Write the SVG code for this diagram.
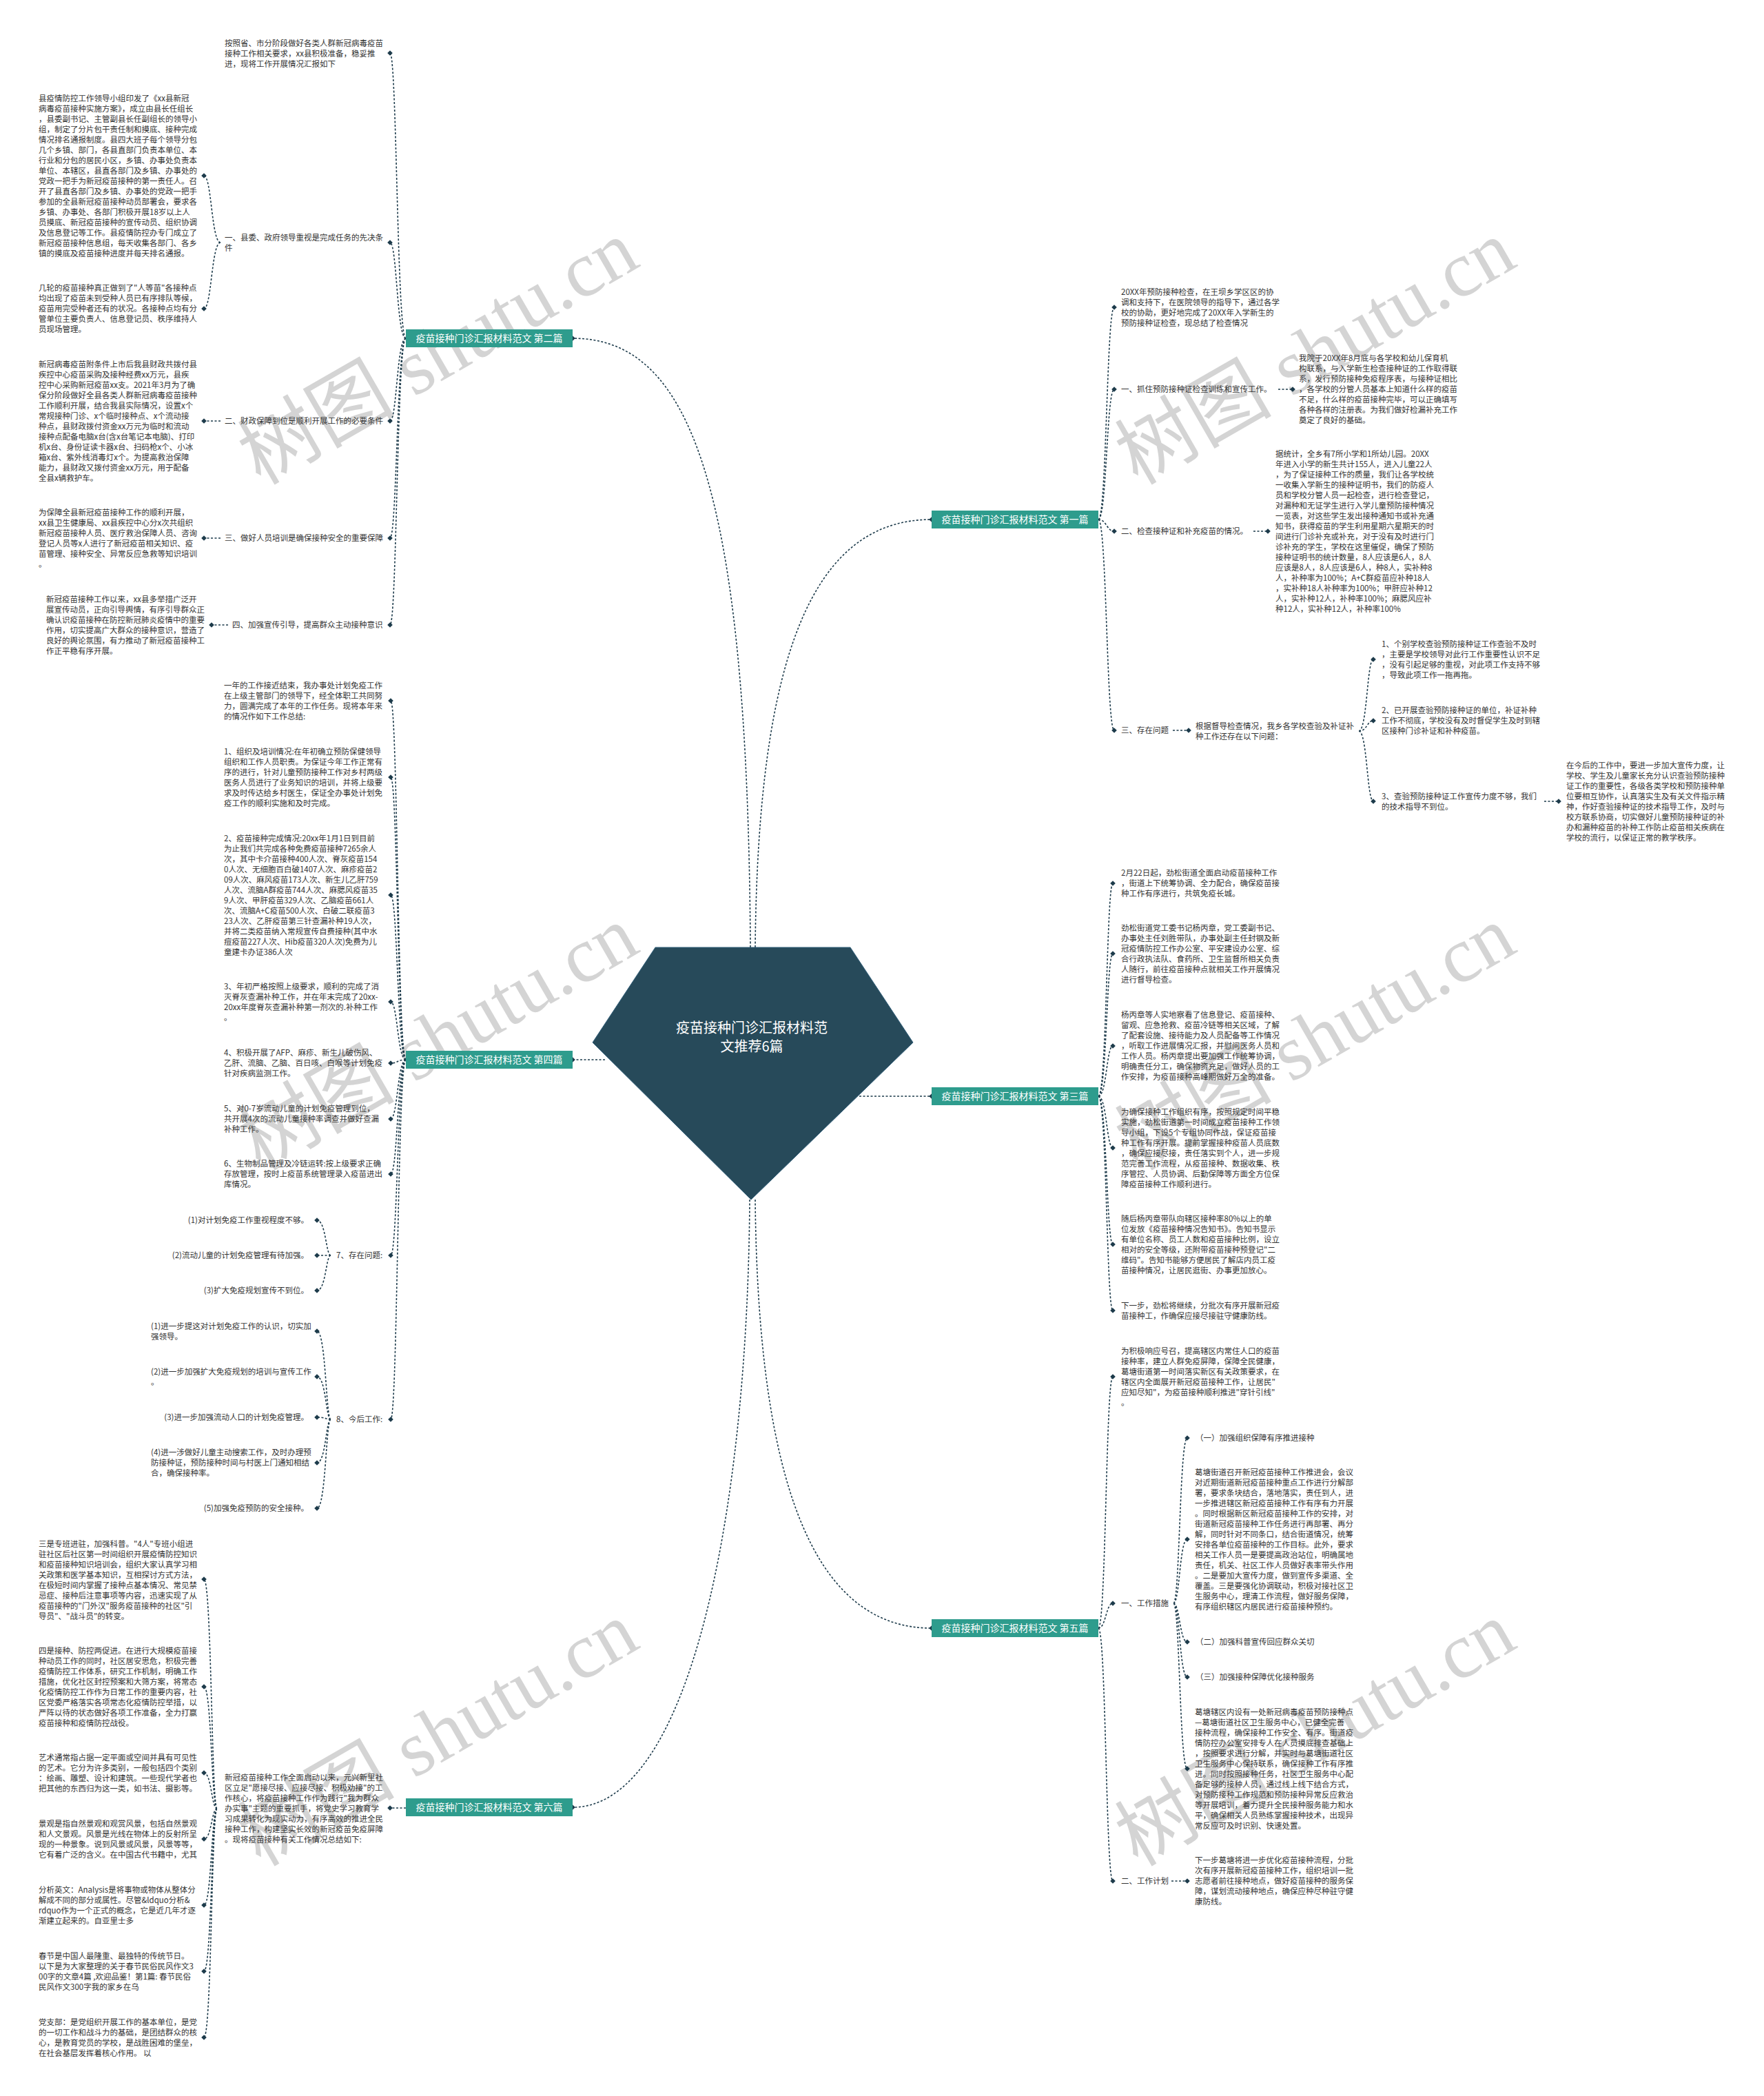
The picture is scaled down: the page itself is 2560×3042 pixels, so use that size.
<svg xmlns="http://www.w3.org/2000/svg" width="2560" height="3042" viewBox="0 0 2560 3042">
<style>
.t{font-family:"Noto Sans CJK SC","Noto Sans",sans-serif;font-size:11.5px;fill:#333}
.c{fill:none;stroke:#1d3b4b;stroke-width:1.6;stroke-dasharray:3 2.5;marker-end:url(#dm)}
.lb{fill:#2e9c8d}
.lt{font-family:"Noto Sans CJK SC","Noto Sans",sans-serif;font-size:14px;fill:#fff;text-anchor:middle}
.wm{font-family:"Liberation Serif","Noto Sans CJK SC",serif;font-size:114px;fill:#b8b8b8;opacity:0.6;text-anchor:middle}
</style>
<defs>
<marker id="dm" markerWidth="10" markerHeight="10" refX="5" refY="5" markerUnits="userSpaceOnUse"><path d="M5 1.2L8.8 5L5 8.8L1.2 5Z" fill="#1d3b4b"/></marker>
</defs>
<rect width="2560" height="3042" fill="#fff"/>
<g id="watermarks">
<text class="wm" transform="translate(655,545) rotate(-30)">树图 shutu.cn</text>
<text class="wm" transform="translate(1928,545) rotate(-30)">树图 shutu.cn</text>
<text class="wm" transform="translate(655,1540) rotate(-30)">树图 shutu.cn</text>
<text class="wm" transform="translate(1928,1540) rotate(-30)">树图 shutu.cn</text>
<text class="wm" transform="translate(655,2550) rotate(-30)">树图 shutu.cn</text>
<text class="wm" transform="translate(1928,2550) rotate(-30)">树图 shutu.cn</text>
</g>
<g id="connectors">
<path class="c" d="M1089,1375 C1085,700 1000,491 831,491"/>
<path class="c" d="M1096,1375 C1100,950 1180,754 1352,754"/>
<path class="c" d="M878,1538 L831,1538"/>
<path class="c" d="M1247,1591 L1352,1591"/>
<path class="c" d="M1096,1741 C1100,2150 1180,2363 1352,2363"/>
<path class="c" d="M1088,1741 C1085,2200 1000,2623 831,2623"/>
<path class="c" d="M589,491 C576,491 576,77 566,77"/>
<path class="c" d="M589,491 C576,491 576,352 566,352"/>
<path class="c" d="M589,491 C576,491 576,611 566,611"/>
<path class="c" d="M589,491 C576,491 576,781 566,781"/>
<path class="c" d="M589,491 C576,491 576,907 566,907"/>
<path class="c" d="M320,352 C307,352 307,255 296,255"/>
<path class="c" d="M320,352 C307,352 307,448 296,448"/>
<path class="c" d="M320,611 H296"/>
<path class="c" d="M320,781 H296"/>
<path class="c" d="M331,907 H307"/>
<path class="c" d="M589,1538 C577,1538 577,1017 567,1017"/>
<path class="c" d="M589,1538 C577,1538 577,1128 567,1128"/>
<path class="c" d="M589,1538 C577,1538 577,1299 567,1299"/>
<path class="c" d="M589,1538 C577,1538 577,1454 567,1454"/>
<path class="c" d="M589,1538 C577,1538 577,1543 567,1543"/>
<path class="c" d="M589,1538 C577,1538 577,1624 567,1624"/>
<path class="c" d="M589,1538 C577,1538 577,1704 567,1704"/>
<path class="c" d="M589,1538 C577,1538 577,1822 567,1822"/>
<path class="c" d="M589,1538 C577,1538 577,2060 567,2060"/>
<path class="c" d="M480,1822 C473,1822 473,1771 460,1771"/>
<path class="c" d="M480,1822 H460"/>
<path class="c" d="M480,1822 C473,1822 473,1873 460,1873"/>
<path class="c" d="M480,2060 C473,2060 473,1932 460,1932"/>
<path class="c" d="M480,2060 C473,2060 473,1998 460,1998"/>
<path class="c" d="M480,2060 C473,2060 473,2057 460,2057"/>
<path class="c" d="M480,2060 C473,2060 473,2123 460,2123"/>
<path class="c" d="M480,2060 C473,2060 473,2189 460,2189"/>
<path class="c" d="M589,2624 H566"/>
<path class="c" d="M315,2625 C307,2625 307,2292 296,2292"/>
<path class="c" d="M315,2625 C307,2625 307,2448 296,2448"/>
<path class="c" d="M315,2625 C307,2625 307,2573 296,2573"/>
<path class="c" d="M315,2625 C307,2625 307,2669 296,2669"/>
<path class="c" d="M315,2625 C307,2625 307,2765 296,2765"/>
<path class="c" d="M315,2625 C307,2625 307,2861 296,2861"/>
<path class="c" d="M315,2625 C307,2625 307,2957 296,2957"/>
<path class="c" d="M1594,754 C1606,754 1606,446 1617,446"/>
<path class="c" d="M1594,754 C1606,754 1606,565 1617,565"/>
<path class="c" d="M1594,754 C1606,754 1606,771 1617,771"/>
<path class="c" d="M1594,754 C1606,754 1606,1060 1617,1060"/>
<path class="c" d="M1855,565 H1876"/>
<path class="c" d="M1819,771 H1840"/>
<path class="c" d="M1702,1060 H1725"/>
<path class="c" d="M1972,1061 C1984,1061 1984,957 1993,957"/>
<path class="c" d="M1972,1061 C1984,1061 1984,1046 1993,1046"/>
<path class="c" d="M1972,1061 C1984,1061 1984,1163 1993,1163"/>
<path class="c" d="M2241,1163 H2262"/>
<path class="c" d="M1594,1591 C1606,1591 1606,1282 1615,1282"/>
<path class="c" d="M1594,1591 C1606,1591 1606,1384 1615,1384"/>
<path class="c" d="M1594,1591 C1606,1591 1606,1518 1615,1518"/>
<path class="c" d="M1594,1591 C1606,1591 1606,1666 1615,1666"/>
<path class="c" d="M1594,1591 C1606,1591 1606,1806 1615,1806"/>
<path class="c" d="M1594,1591 C1606,1591 1606,1902 1615,1902"/>
<path class="c" d="M1594,2363 C1605,2363 1605,1998 1615,1998"/>
<path class="c" d="M1594,2363 C1605,2363 1605,2327 1615,2327"/>
<path class="c" d="M1594,2363 C1605,2363 1605,2730 1615,2730"/>
<path class="c" d="M1703,2327 C1712,2327 1712,2087 1723,2087"/>
<path class="c" d="M1703,2327 C1712,2327 1712,2234 1723,2234"/>
<path class="c" d="M1703,2327 C1712,2327 1712,2383 1723,2383"/>
<path class="c" d="M1703,2327 C1712,2327 1712,2434 1723,2434"/>
<path class="c" d="M1703,2327 C1712,2327 1712,2567 1723,2567"/>
<path class="c" d="M1700,2730 H1723"/>
</g>
<g id="center">
<polygon points="951,1375 1234,1375 1325,1513 1090,1741 860,1513" fill="#274a5a" stroke="#2f5d78" stroke-width="1"/>
<text font-family="Noto Sans CJK SC, sans-serif" font-size="20" fill="#fff" text-anchor="middle"><tspan x="1091" y="1499">疫苗接种门诊汇报材料范</tspan><tspan x="1091" y="1526">文推荐6篇</tspan></text>
</g>
<g id="label-2"><rect class="lb" x="589" y="478" width="242" height="26"/><text class="lt" x="710" y="496">疫苗接种门诊汇报材料范文 第二篇</text></g>
<g id="label-1"><rect class="lb" x="1352" y="741" width="242" height="26"/><text class="lt" x="1473" y="759">疫苗接种门诊汇报材料范文 第一篇</text></g>
<g id="label-4"><rect class="lb" x="589" y="1525" width="242" height="26"/><text class="lt" x="710" y="1543">疫苗接种门诊汇报材料范文 第四篇</text></g>
<g id="label-3"><rect class="lb" x="1352" y="1578" width="242" height="26"/><text class="lt" x="1473" y="1596">疫苗接种门诊汇报材料范文 第三篇</text></g>
<g id="label-5"><rect class="lb" x="1352" y="2350" width="242" height="26"/><text class="lt" x="1473" y="2368">疫苗接种门诊汇报材料范文 第五篇</text></g>
<g id="label-6"><rect class="lb" x="589" y="2610" width="242" height="26"/><text class="lt" x="710" y="2628">疫苗接种门诊汇报材料范文 第六篇</text></g>

<g id="b2-0"><text class="t" y="67"><tspan x="326">按照省、市分阶段做好各类人群新冠病毒疫苗</tspan><tspan x="326" dy="15">接种工作相关要求，xx县积极准备，稳妥推</tspan><tspan x="326" dy="15">进，现将工作开展情况汇报如下</tspan></text></g>
<g id="b2-1"><text class="t" y="349"><tspan x="326">一、县委、政府领导重视是完成任务的先决条</tspan><tspan x="326" dy="15">件</tspan></text></g>
<g id="b2-1-1"><text class="t" y="147"><tspan x="56">县疫情防控工作领导小组印发了《xx县新冠</tspan><tspan x="56" dy="15">病毒疫苗接种实施方案》，成立由县长任组长</tspan><tspan x="56" dy="15">，县委副书记、主管副县长任副组长的领导小</tspan><tspan x="56" dy="15">组，制定了分片包干责任制和摸底、接种完成</tspan><tspan x="56" dy="15">情况排名通报制度。县四大班子每个领导分包</tspan><tspan x="56" dy="15">几个乡镇、部门，各县直部门负责本单位、本</tspan><tspan x="56" dy="15">行业和分包的居民小区，乡镇、办事处负责本</tspan><tspan x="56" dy="15">单位、本辖区，县直各部门及乡镇、办事处的</tspan><tspan x="56" dy="15">党政一把手为新冠疫苗接种的第一责任人。召</tspan><tspan x="56" dy="15">开了县直各部门及乡镇、办事处的党政一把手</tspan><tspan x="56" dy="15">参加的全县新冠疫苗接种动员部署会，要求各</tspan><tspan x="56" dy="15">乡镇、办事处、各部门积极开展18岁以上人</tspan><tspan x="56" dy="15">员摸底、新冠疫苗接种的宣传动员、组织协调</tspan><tspan x="56" dy="15">及信息登记等工作。县疫情防控办专门成立了</tspan><tspan x="56" dy="15">新冠疫苗接种信息组，每天收集各部门、各乡</tspan><tspan x="56" dy="15">镇的摸底及疫苗接种进度并每天排名通报。</tspan></text></g>
<g id="b2-1-2"><text class="t" y="422"><tspan x="56">几轮的疫苗接种真正做到了"人等苗"各接种点</tspan><tspan x="56" dy="15">均出现了疫苗未到受种人员已有序排队等候，</tspan><tspan x="56" dy="15">疫苗用完受种者还有的状况。各接种点均有分</tspan><tspan x="56" dy="15">管单位主要负责人、信息登记员、秩序维持人</tspan><tspan x="56" dy="15">员现场管理。</tspan></text></g>
<g id="b2-2"><text class="t" x="326" y="615">二、财政保障到位是顺利开展工作的必要条件</text></g>
<g id="b2-2-1"><text class="t" y="532.5"><tspan x="56">新冠病毒疫苗附条件上市后我县财政共拨付县</tspan><tspan x="56" dy="15">疾控中心疫苗采购及接种经费xx万元，县疾</tspan><tspan x="56" dy="15">控中心采购新冠疫苗xx支。2021年3月为了确</tspan><tspan x="56" dy="15">保分阶段做好全县各类人群新冠病毒疫苗接种</tspan><tspan x="56" dy="15">工作顺利开展，结合我县实际情况，设置x个</tspan><tspan x="56" dy="15">常规接种门诊、x个临时接种点、x个流动接</tspan><tspan x="56" dy="15">种点，县财政拨付资金xx万元为临时和流动</tspan><tspan x="56" dy="15">接种点配备电脑x台(含x台笔记本电脑)、打印</tspan><tspan x="56" dy="15">机x台、身份证读卡器x台、扫码枪x个、小冰</tspan><tspan x="56" dy="15">箱x台、紫外线消毒灯x个。为提高救治保障</tspan><tspan x="56" dy="15">能力，县财政又拨付资金xx万元，用于配备</tspan><tspan x="56" dy="15">全县x辆救护车。</tspan></text></g>
<g id="b2-3"><text class="t" x="326" y="785">三、做好人员培训是确保接种安全的重要保障</text></g>
<g id="b2-3-1"><text class="t" y="747.5"><tspan x="56">为保障全县新冠疫苗接种工作的顺利开展，</tspan><tspan x="56" dy="15">xx县卫生健康局、xx县疾控中心分x次共组织</tspan><tspan x="56" dy="15">新冠疫苗接种人员、医疗救治保障人员、咨询</tspan><tspan x="56" dy="15">登记人员等x人进行了新冠疫苗相关知识、疫</tspan><tspan x="56" dy="15">苗管理、接种安全、异常反应急救等知识培训</tspan><tspan x="56" dy="15">。</tspan></text></g>
<g id="b2-4"><text class="t" x="337" y="911">四、加强宣传引导，提高群众主动接种意识</text></g>
<g id="b2-4-1"><text class="t" y="873.5"><tspan x="67">新冠疫苗接种工作以来，xx县多举措广泛开</tspan><tspan x="67" dy="15">展宣传动员，正向引导舆情，有序引导群众正</tspan><tspan x="67" dy="15">确认识疫苗接种在防控新冠肺炎疫情中的重要</tspan><tspan x="67" dy="15">作用，切实提高广大群众的接种意识，营造了</tspan><tspan x="67" dy="15">良好的舆论氛围，有力推动了新冠疫苗接种工</tspan><tspan x="67" dy="15">作正平稳有序开展。</tspan></text></g>

<g id="b4-0"><text class="t" y="998.5"><tspan x="325">一年的工作接近结束，我办事处计划免疫工作</tspan><tspan x="325" dy="15">在上级主管部门的领导下，经全体职工共同努</tspan><tspan x="325" dy="15">力，圆满完成了本年的工作任务。现将本年来</tspan><tspan x="325" dy="15">的情况作如下工作总结:</tspan></text></g>
<g id="b4-1"><text class="t" y="1094.5"><tspan x="325">1、组织及培训情况:在年初确立预防保健领导</tspan><tspan x="325" dy="15">组织和工作人员职责。为保证今年工作正常有</tspan><tspan x="325" dy="15">序的进行，针对儿童预防接种工作对乡村两级</tspan><tspan x="325" dy="15">医务人员进行了业务知识的培训，并将上级要</tspan><tspan x="325" dy="15">求及时传达给乡村医生，保证全办事处计划免</tspan><tspan x="325" dy="15">疫工作的顺利实施和及时完成。</tspan></text></g>
<g id="b4-2"><text class="t" y="1220.5"><tspan x="325">2、疫苗接种完成情况:20xx年1月1日到目前</tspan><tspan x="325" dy="15">为止我们共完成各种免费疫苗接种7265余人</tspan><tspan x="325" dy="15">次，其中卡介苗接种400人次、脊灰疫苗154</tspan><tspan x="325" dy="15">0人次、无细胞百白破1407人次、麻疹疫苗2</tspan><tspan x="325" dy="15">09人次、麻风疫苗173人次、新生儿乙肝759</tspan><tspan x="325" dy="15">人次、流脑A群疫苗744人次、麻腮风疫苗35</tspan><tspan x="325" dy="15">9人次、甲肝疫苗329人次、乙脑疫苗661人</tspan><tspan x="325" dy="15">次、流脑A+C疫苗500人次、白破二联疫苗3</tspan><tspan x="325" dy="15">23人次、乙肝疫苗第三针查漏补种19人次，</tspan><tspan x="325" dy="15">并将二类疫苗纳入常规宣传自费接种(其中水</tspan><tspan x="325" dy="15">痘疫苗227人次、Hib疫苗320人次)免费为儿</tspan><tspan x="325" dy="15">童建卡办证386人次</tspan></text></g>
<g id="b4-3"><text class="t" y="1435.5"><tspan x="325">3、年初严格按照上级要求，顺利的完成了消</tspan><tspan x="325" dy="15">灭脊灰查漏补种工作，并在年末完成了20xx-</tspan><tspan x="325" dy="15">20xx年度脊灰查漏补种第一剂次的.补种工作</tspan><tspan x="325" dy="15">。</tspan></text></g>
<g id="b4-4"><text class="t" y="1532"><tspan x="325">4、积极开展了AFP、麻疹、新生儿破伤风、</tspan><tspan x="325" dy="15">乙肝、流脑、乙脑、百日咳、白喉等计划免疫</tspan><tspan x="325" dy="15">针对疾病监测工作。</tspan></text></g>
<g id="b4-5"><text class="t" y="1613"><tspan x="325">5、对0-7岁流动儿童的计划免疫管理到位，</tspan><tspan x="325" dy="15">共开展4次的流动儿童接种率调查并做好查漏</tspan><tspan x="325" dy="15">补种工作。</tspan></text></g>
<g id="b4-6"><text class="t" y="1693"><tspan x="325">6、生物制品管理及冷链运转:按上级要求正确</tspan><tspan x="325" dy="15">存放管理，按时上疫苗系统管理录入疫苗进出</tspan><tspan x="325" dy="15">库情况。</tspan></text></g>
<g id="b4-7"><text class="t" x="488" y="1826">7、存在问题:</text></g>
<g id="b4-7-1"><text class="t" x="448" y="1775" text-anchor="end">(1)对计划免疫工作重视程度不够。</text></g>
<g id="b4-7-2"><text class="t" x="448" y="1826" text-anchor="end">(2)流动儿童的计划免疫管理有待加强。</text></g>
<g id="b4-7-3"><text class="t" x="448" y="1877" text-anchor="end">(3)扩大免疫规划宣传不到位。</text></g>
<g id="b4-8"><text class="t" x="488" y="2064">8、今后工作:</text></g>
<g id="b4-8-1"><text class="t" y="1928.5"><tspan x="219">(1)进一步提这对计划免疫工作的认识，切实加</tspan><tspan x="219" dy="15">强领导。</tspan></text></g>
<g id="b4-8-2"><text class="t" y="1994.5"><tspan x="219">(2)进一步加强扩大免疫规划的培训与宣传工作</tspan><tspan x="219" dy="15">。</tspan></text></g>
<g id="b4-8-3"><text class="t" x="448" y="2061" text-anchor="end">(3)进一步加强流动人口的计划免疫管理。</text></g>
<g id="b4-8-4"><text class="t" y="2112"><tspan x="219">(4)进一涉做好儿童主动搜索工作，及时办理预</tspan><tspan x="219" dy="15">防接种证，预防接种时间与村医上门通知相结</tspan><tspan x="219" dy="15">合，确保接种率。</tspan></text></g>
<g id="b4-8-5"><text class="t" x="448" y="2193" text-anchor="end">(5)加强免疫预防的安全接种。</text></g>

<g id="b6-0"><text class="t" y="2584"><tspan x="326">新冠疫苗接种工作全面启动以来，元兴新里社</tspan><tspan x="326" dy="15">区立足"愿接尽接、应接尽接、积极劝接"的工</tspan><tspan x="326" dy="15">作核心，将疫苗接种工作作为践行"我为群众</tspan><tspan x="326" dy="15">办实事"主题的重要抓手，将党史学习教育学</tspan><tspan x="326" dy="15">习成果转化为现实动力，有序高效的推进全民</tspan><tspan x="326" dy="15">接种工作，构建坚实长效的新冠疫苗免疫屏障</tspan><tspan x="326" dy="15">。现将疫苗接种有关工作情况总结如下:</tspan></text></g>
<g id="b6-1"><text class="t" y="2244.5"><tspan x="56">三是专班进驻，加强科普。"4人"专班小组进</tspan><tspan x="56" dy="15">驻社区后社区第一时间组织开展疫情防控知识</tspan><tspan x="56" dy="15">和疫苗接种知识培训会，组织大家认真学习相</tspan><tspan x="56" dy="15">关政策和医学基本知识，互相探讨方式方法，</tspan><tspan x="56" dy="15">在极短时间内掌握了接种点基本情况、常见禁</tspan><tspan x="56" dy="15">忌症、接种后注意事项等内容，迅速实现了从</tspan><tspan x="56" dy="15">疫苗接种的"门外汉"服务疫苗接种的社区"引</tspan><tspan x="56" dy="15">导员"、"战斗员"的转变。</tspan></text></g>
<g id="b6-2"><text class="t" y="2399.5"><tspan x="56">四是接种、防控两促进。在进行大规模疫苗接</tspan><tspan x="56" dy="15">种动员工作的同时，社区居安思危，积极完善</tspan><tspan x="56" dy="15">疫情防控工作体系，研究工作机制，明确工作</tspan><tspan x="56" dy="15">措施，优化社区封控预案和大筛方案，将常态</tspan><tspan x="56" dy="15">化疫情防控工作作为日常工作的重要内容，社</tspan><tspan x="56" dy="15">区党委严格落实各项常态化疫情防控举措，以</tspan><tspan x="56" dy="15">严阵以待的状态做好各项工作准备，全力打赢</tspan><tspan x="56" dy="15">疫苗接种和疫情防控战役。</tspan></text></g>
<g id="b6-3"><text class="t" y="2554.5"><tspan x="56">艺术通常指占据一定平面或空间并具有可见性</tspan><tspan x="56" dy="15">的艺术。它分为许多类别，一般包括四个类别</tspan><tspan x="56" dy="15">：绘画、雕塑、设计和建筑。一些现代学者也</tspan><tspan x="56" dy="15">把其他的东西归为这一类，如书法、摄影等。</tspan></text></g>
<g id="b6-4"><text class="t" y="2650.5"><tspan x="56">景观是指自然景观和观赏风景，包括自然景观</tspan><tspan x="56" dy="15">和人文景观。风景是光线在物体上的反射所呈</tspan><tspan x="56" dy="15">现的一种景象。说到风景或风景，风景等等，</tspan><tspan x="56" dy="15">它有着广泛的含义。在中国古代书籍中，尤其</tspan></text></g>
<g id="b6-5"><text class="t" y="2746.5"><tspan x="56">分析英文：Analysis是将事物或物体从整体分</tspan><tspan x="56" dy="15">解成不同的部分或属性。尽管&amp;ldquo分析&amp;</tspan><tspan x="56" dy="15">rdquo作为一个正式的概念，它是近几年才逐</tspan><tspan x="56" dy="15">渐建立起来的。自亚里士多</tspan></text></g>
<g id="b6-6"><text class="t" y="2842.5"><tspan x="56">春节是中国人最隆重、最独特的传统节日。</tspan><tspan x="56" dy="15">以下是为大家整理的关于春节民俗民风作文3</tspan><tspan x="56" dy="15">00字的文章4篇 ,欢迎品鉴！第1篇: 春节民俗</tspan><tspan x="56" dy="15">民风作文300字我的家乡在乌</tspan></text></g>
<g id="b6-7"><text class="t" y="2938.5"><tspan x="56">党支部：是党组织开展工作的基本单位，是党</tspan><tspan x="56" dy="15">的一切工作和战斗力的基础，是团结群众的核</tspan><tspan x="56" dy="15">心，是教育党员的学校，是战胜困难的堡垒，</tspan><tspan x="56" dy="15">在社会基层发挥着核心作用。 以</tspan></text></g>

<g id="b1-0"><text class="t" y="427.5"><tspan x="1627">20XX年预防接种检查，在王坝乡学区区的协</tspan><tspan x="1627" dy="15">调和支持下，在医院领导的指导下，通过各学</tspan><tspan x="1627" dy="15">校的协助，更好地完成了20XX年入学新生的</tspan><tspan x="1627" dy="15">预防接种证检查，现总结了检查情况</tspan></text></g>
<g id="b1-1"><text class="t" x="1627" y="569">一、抓住预防接种证检查训练和宣传工作。</text></g>
<g id="b1-1-1"><text class="t" y="524"><tspan x="1885">我院于20XX年8月底与各学校和幼儿保育机</tspan><tspan x="1885" dy="15">构联系，与入学新生检查接种证的工作取得联</tspan><tspan x="1885" dy="15">系，发行预防接种免疫程序表，与接种证相比</tspan><tspan x="1885" dy="15">，各学校的分管人员基本上知道什么样的疫苗</tspan><tspan x="1885" dy="15">不足，什么样的疫苗接种完毕，可以正确填写</tspan><tspan x="1885" dy="15">各种各样的注册表。为我们做好检漏补充工作</tspan><tspan x="1885" dy="15">奠定了良好的基础。</tspan></text></g>
<g id="b1-2"><text class="t" x="1627" y="775">二、检查接种证和补充疫苗的情况。</text></g>
<g id="b1-2-1"><text class="t" y="662.5"><tspan x="1851">据统计，全乡有7所小学和1所幼儿园。20XX</tspan><tspan x="1851" dy="15">年进入小学的新生共计155人，进入儿童22人</tspan><tspan x="1851" dy="15">，为了保证接种工作的质量，我们让各学校统</tspan><tspan x="1851" dy="15">一收集入学新生的接种证明书，我们的防疫人</tspan><tspan x="1851" dy="15">员和学校分管人员一起检查，进行检查登记，</tspan><tspan x="1851" dy="15">对漏种和无证学生进行入学儿童预防接种情况</tspan><tspan x="1851" dy="15">一览表，对这些学生发出接种通知书或补充通</tspan><tspan x="1851" dy="15">知书，获得疫苗的学生利用星期六星期天的时</tspan><tspan x="1851" dy="15">间进行门诊补充或补充，对于没有及时进行门</tspan><tspan x="1851" dy="15">诊补充的学生，学校在这里催促，确保了预防</tspan><tspan x="1851" dy="15">接种证明书的统计数量，8人应该是6人，8人</tspan><tspan x="1851" dy="15">应该是8人，8人应该是6人，种8人，实补种8</tspan><tspan x="1851" dy="15">人，补种率为100%；A+C群疫苗应补种18人</tspan><tspan x="1851" dy="15">，实补种18人补种率为100%；甲肝应补种12</tspan><tspan x="1851" dy="15">人，实补种12人，补种率100%；麻腮风应补</tspan><tspan x="1851" dy="15">种12人，实补种12人，补种率100%</tspan></text></g>
<g id="b1-3"><text class="t" x="1627" y="1064">三、存在问题</text></g>
<g id="b1-3-0"><text class="t" y="1057.5"><tspan x="1735">根据督导检查情况，我乡各学校查验及补证补</tspan><tspan x="1735" dy="15">种工作还存在以下问题：</tspan></text></g>
<g id="b1-3-1"><text class="t" y="938.5"><tspan x="2005">1、个别学校查验预防接种证工作查验不及时</tspan><tspan x="2005" dy="15">，主要是学校领导对此行工作重要性认识不足</tspan><tspan x="2005" dy="15">，没有引起足够的重视，对此项工作支持不够</tspan><tspan x="2005" dy="15">，导致此项工作一拖再拖。</tspan></text></g>
<g id="b1-3-2"><text class="t" y="1035"><tspan x="2005">2、已开展查验预防接种证的单位，补证补种</tspan><tspan x="2005" dy="15">工作不彻底，学校没有及时督促学生及时到辖</tspan><tspan x="2005" dy="15">区接种门诊补证和补种疫苗。</tspan></text></g>
<g id="b1-3-3"><text class="t" y="1159.5"><tspan x="2005">3、查验预防接种证工作宣传力度不够，我们</tspan><tspan x="2005" dy="15">的技术指导不到位。</tspan></text></g>
<g id="b1-3-3-1"><text class="t" y="1114.5"><tspan x="2273">在今后的工作中，要进一步加大宣传力度，让</tspan><tspan x="2273" dy="15">学校、学生及儿童家长充分认识查验预防接种</tspan><tspan x="2273" dy="15">证工作的重要性，各级各类学校和预防接种单</tspan><tspan x="2273" dy="15">位要相互协作，认真落实生及有关文件指示精</tspan><tspan x="2273" dy="15">神，作好查验接种证的技术指导工作，及时与</tspan><tspan x="2273" dy="15">校方联系协商，切实做好儿童预防接种证的补</tspan><tspan x="2273" dy="15">办和漏种疫苗的补种工作防止疫苗相关疾病在</tspan><tspan x="2273" dy="15">学校的流行，以保证正常的教学秩序。</tspan></text></g>

<g id="b3-1"><text class="t" y="1271"><tspan x="1627">2月22日起，劲松街道全面启动疫苗接种工作</tspan><tspan x="1627" dy="15">，街道上下统筹协调、全力配合，确保疫苗接</tspan><tspan x="1627" dy="15">种工作有序进行，共筑免疫长城。</tspan></text></g>
<g id="b3-2"><text class="t" y="1350.5"><tspan x="1627">劲松街道党工委书记杨丙章，党工委副书记、</tspan><tspan x="1627" dy="15">办事处主任刘胜带队，办事处副主任封钢及新</tspan><tspan x="1627" dy="15">冠疫情防控工作办公室、平安建设办公室、综</tspan><tspan x="1627" dy="15">合行政执法队、食药所、卫生监督所相关负责</tspan><tspan x="1627" dy="15">人随行，前往疫苗接种点就相关工作开展情况</tspan><tspan x="1627" dy="15">进行督导检查。</tspan></text></g>
<g id="b3-3"><text class="t" y="1477"><tspan x="1627">杨丙章等人实地察看了信息登记、疫苗接种、</tspan><tspan x="1627" dy="15">留观、应急抢救、疫苗冷链等相关区域，了解</tspan><tspan x="1627" dy="15">了配套设施、接待能力及人员配备等工作情况</tspan><tspan x="1627" dy="15">，听取工作进展情况汇报，并慰问医务人员和</tspan><tspan x="1627" dy="15">工作人员。杨丙章提出要加强工作统筹协调，</tspan><tspan x="1627" dy="15">明确责任分工，确保物资充足，做好人员的工</tspan><tspan x="1627" dy="15">作安排，为疫苗接种高峰期做好万全的准备。</tspan></text></g>
<g id="b3-4"><text class="t" y="1617.5"><tspan x="1627">为确保接种工作组织有序，按照规定时间平稳</tspan><tspan x="1627" dy="15">实施，劲松街道第一时间成立疫苗接种工作领</tspan><tspan x="1627" dy="15">导小组，下设5个专组协同作战，保证疫苗接</tspan><tspan x="1627" dy="15">种工作有序开展。提前掌握接种疫苗人员底数</tspan><tspan x="1627" dy="15">，确保应接尽接，责任落实到个人，进一步规</tspan><tspan x="1627" dy="15">范完善工作流程，从疫苗接种、数据收集、秩</tspan><tspan x="1627" dy="15">序管控、人员协调、后勤保障等方面全方位保</tspan><tspan x="1627" dy="15">障疫苗接种工作顺利进行。</tspan></text></g>
<g id="b3-5"><text class="t" y="1772.5"><tspan x="1627">随后杨丙章带队向辖区接种率80%以上的单</tspan><tspan x="1627" dy="15">位发放《疫苗接种情况告知书》。告知书显示</tspan><tspan x="1627" dy="15">有单位名称、员工人数和疫苗接种比例，设立</tspan><tspan x="1627" dy="15">相对的安全等级，还附带疫苗接种预登记"二</tspan><tspan x="1627" dy="15">维码"。告知书能够方便居民了解店内员工疫</tspan><tspan x="1627" dy="15">苗接种情况，让居民逛街、办事更加放心。</tspan></text></g>
<g id="b3-6"><text class="t" y="1898.5"><tspan x="1627">下一步，劲松将继续，分批次有序开展新冠疫</tspan><tspan x="1627" dy="15">苗接种工，作确保应接尽接驻守健康防线。</tspan></text></g>

<g id="b5-0"><text class="t" y="1964.5"><tspan x="1627">为积极响应号召，提高辖区内常住人口的疫苗</tspan><tspan x="1627" dy="15">接种率，建立人群免疫屏障，保障全民健康，</tspan><tspan x="1627" dy="15">葛塘街道第一时间落实新区有关政策要求，在</tspan><tspan x="1627" dy="15">辖区内全面展开新冠疫苗接种工作，让居民"</tspan><tspan x="1627" dy="15">应知尽知"，为疫苗接种顺利推进"穿针引线"</tspan><tspan x="1627" dy="15">。</tspan></text></g>
<g id="b5-1"><text class="t" x="1627" y="2331">一、工作措施</text></g>
<g id="b5-1-1"><text class="t" x="1735" y="2091">（一）加强组织保障有序推进接种</text></g>
<g id="b5-1-2"><text class="t" y="2140.5"><tspan x="1734">葛塘街道召开新冠疫苗接种工作推进会，会议</tspan><tspan x="1734" dy="15">对近期街道新冠疫苗接种重点工作进行分解部</tspan><tspan x="1734" dy="15">署，要求条块结合，落地落实，责任到人，进</tspan><tspan x="1734" dy="15">一步推进辖区新冠疫苗接种工作有序有力开展</tspan><tspan x="1734" dy="15">。同时根据新区新冠疫苗接种工作的安排，对</tspan><tspan x="1734" dy="15">街道新冠疫苗接种工作任务进行再部署、再分</tspan><tspan x="1734" dy="15">解，同时针对不同条口，结合街道情况，统筹</tspan><tspan x="1734" dy="15">安排各单位疫苗接种的工作目标。此外，要求</tspan><tspan x="1734" dy="15">相关工作人员一是要提高政治站位，明确属地</tspan><tspan x="1734" dy="15">责任，机关、社区工作人员做好表率带头作用</tspan><tspan x="1734" dy="15">。二是要加大宣传力度，做到宣传多渠道、全</tspan><tspan x="1734" dy="15">覆盖。三是要强化协调联动，积极对接社区卫</tspan><tspan x="1734" dy="15">生服务中心，理清工作流程，做好服务保障，</tspan><tspan x="1734" dy="15">有序组织辖区内居民进行疫苗接种预约。</tspan></text></g>
<g id="b5-1-3"><text class="t" x="1735" y="2387">（二）加强科普宣传回应群众关切</text></g>
<g id="b5-1-4"><text class="t" x="1735" y="2438">（三）加强接种保障优化接种服务</text></g>
<g id="b5-1-5"><text class="t" y="2488.5"><tspan x="1734">葛塘辖区内设有一处新冠病毒疫苗预防接种点</tspan><tspan x="1734" dy="15">—葛塘街道社区卫生服务中心，已健全完善</tspan><tspan x="1734" dy="15">接种流程，确保接种工作安全、有序。街道疫</tspan><tspan x="1734" dy="15">情防控办公室安排专人在人员摸底排查基础上</tspan><tspan x="1734" dy="15">，按照要求进行分解，并实时与葛塘街道社区</tspan><tspan x="1734" dy="15">卫生服务中心保持联系，确保接种工作有序推</tspan><tspan x="1734" dy="15">进。同时按照接种任务，社区卫生服务中心配</tspan><tspan x="1734" dy="15">备足够的接种人员，通过线上线下结合方式，</tspan><tspan x="1734" dy="15">对预防接种工作规范和预防接种异常反应救治</tspan><tspan x="1734" dy="15">等开展培训，着力提升全民接种服务能力和水</tspan><tspan x="1734" dy="15">平，确保相关人员熟练掌握接种技术，出现异</tspan><tspan x="1734" dy="15">常反应可及时识别、快速处置。</tspan></text></g>
<g id="b5-2"><text class="t" x="1627" y="2734">二、工作计划</text></g>
<g id="b5-2-1"><text class="t" y="2704"><tspan x="1734">下一步葛塘将进一步优化疫苗接种流程，分批</tspan><tspan x="1734" dy="15">次有序开展新冠疫苗接种工作，组织培训一批</tspan><tspan x="1734" dy="15">志愿者前往接种地点，做好疫苗接种的服务保</tspan><tspan x="1734" dy="15">障，谋划流动接种地点，确保应种尽种驻守健</tspan><tspan x="1734" dy="15">康防线。</tspan></text></g>
</svg>
